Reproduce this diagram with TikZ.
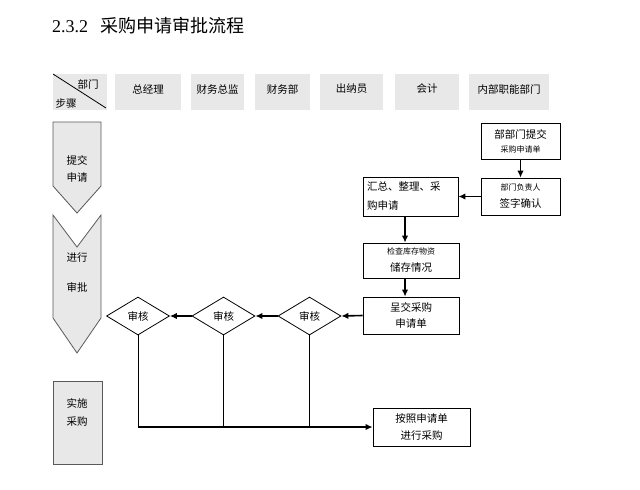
\documentclass[tikz,border=0pt]{standalone}
\usepackage{fontspec}
\setmainfont{Noto Sans CJK SC}
\newfontfamily\numfont{Liberation Serif}
\usetikzlibrary{shapes.geometric,arrows.meta,calc}
\definecolor{hdrgray}{HTML}{E8E8E8}
\definecolor{edgegray}{HTML}{5A5A5A}
\tikzset{
  hdrbox/.style={fill=hdrgray, draw=none, minimum height=36pt, inner sep=0pt},
  hdrtext/.style={font=\fontsize{10.5}{12}\selectfont, inner sep=0pt},
  stagebox/.style={fill=hdrgray, draw=edgegray, line width=0.8pt},
  stagetext/.style={font=\fontsize{10.5}{12}\selectfont, align=center, inner sep=0pt},
  flowbox/.style={draw=black, line width=0.8pt, align=center, inner sep=2pt, font=\fontsize{10.5}{12}\selectfont},
  decide/.style={diamond, draw=black, line width=0.8pt, minimum width=63pt, minimum height=38pt, inner sep=0pt, font=\fontsize{10.5}{12}\selectfont},
  arr/.style={line width=1.6pt, -{Latex[length=7pt,width=6.5pt]}},
  thin/.style={line width=0.8pt}
}
\begin{document}
\begin{tikzpicture}[x=1pt,y=-1pt]
\useasboundingbox[fill=white] (0,0) rectangle (640,490);

% title
\node[anchor=west, inner sep=0pt] (title) at (52,26) {\fontsize{18}{20}\selectfont{\numfont 2.3.2}\hspace{12pt}采购申请审批流程};

% header row
\node[hdrbox, minimum width=54pt] (h0) at (80,92) {};
\draw[thin] (53,74) -- (106,108);
\node[hdrtext] (h0a) at (88,84) {部门};
\node[hdrtext] (h0b) at (66,103) {步骤};
\node[hdrbox, minimum width=66pt] (h1) at (148,92) {};
\node[hdrtext] (h1t) at (148,89) {总经理};
\node[hdrbox, minimum width=53pt] (h2) at (217.5,92) {};
\node[hdrtext] (h2t) at (217.5,89) {财务总监};
\node[hdrbox, minimum width=55pt] (h3) at (282.5,92) {};
\node[hdrtext] (h3t) at (282.5,89) {财务部};
\node[hdrbox, minimum width=63pt] (h4) at (351.5,92) {};
\node[hdrtext] (h4t) at (351.5,89) {出纳员};
\node[hdrbox, minimum width=64pt] (h5) at (427,92) {};
\node[hdrtext] (h5t) at (427,89) {会计};
\node[hdrbox, minimum width=80pt] (h6) at (509,92) {};
\node[hdrtext] (h6t) at (509,89) {内部职能部门};

% stage shapes
\draw[stagebox] (53,122) -- (101,122) -- (101,186) -- (77,213) -- (53,186) -- cycle;
\node[stagetext] (s1a) at (77,160) {提交};
\node[stagetext] (s1b) at (77,178) {申请};
\draw[stagebox] (53,215) -- (77,247) -- (101,215) -- (101,318) -- (77,353) -- (53,318) -- cycle;
\node[stagetext] (s2a) at (77,258) {进行};
\node[stagetext] (s2b) at (77,287) {审批};
\draw[stagebox] (53,381) rectangle (102,464);
\node[stagetext] (s3a) at (77,403) {实施};
\node[stagetext] (s3b) at (77,422) {采购};

% flow boxes
\node[flowbox, minimum width=79pt, minimum height=36pt] (b1) at (520.5,141)
  {部部门提交\\[2pt]{\fontsize{8}{10}\selectfont 采购申请单}};
\node[flowbox, minimum width=79pt, minimum height=37pt] (b2) at (520.5,196.5)
  {{\fontsize{8}{10}\selectfont 部门负责人}\\[5pt]签字确认};
\node[flowbox, minimum width=95pt, minimum height=39pt, text width=87pt, align=left] (b3) at (410.5,196.5)
  {汇总、整理、采\\[7pt]购申请};
\node[flowbox, minimum width=96pt, minimum height=35pt] (b4) at (411,260.5)
  {{\fontsize{8}{10}\selectfont 检查库存物资}\\[5pt]储存情况};
\node[flowbox, minimum width=96pt, minimum height=37pt] (b5) at (411,315.5)
  {呈交采购\\[4pt]申请单};
\node[flowbox, minimum width=97pt, minimum height=38pt] (b6) at (421.5,427)
  {按照申请单\\[5pt]进行采购};

% decisions
\node[decide] (d3) at (309.5,316) {审核};
\node[decide] (d2) at (223.5,316) {审核};
\node[decide] (d1) at (138,316) {审核};

% connectors
\draw[arr] (b1) -- (b2);
\draw[arr] (b2) -- (b3);
\draw[arr] ([xshift=-5.5pt]b3.south) -- ([xshift=-6pt]b4.north);
\draw[arr] ([xshift=-6pt]b4.south) -- ([xshift=-6pt]b5.north);
\draw[arr] (b5.west) -- (d3.east);
\draw[arr] (d3.west) -- (d2.east);
\draw[arr] (d2.west) -- (d1.east);

\coordinate (c1) at (d1.south |- b6.west);
\coordinate (c2) at (d2.south |- b6.west);
\coordinate (c3) at (d3.south |- b6.west);
\draw[thin] (d1.south) -- (c1);
\draw[thin] (d2.south) -- (c2);
\draw[thin] (d3.south) -- (c3);
\draw[arr] (c1) -- (b6.west);
\end{tikzpicture}
\end{document}
